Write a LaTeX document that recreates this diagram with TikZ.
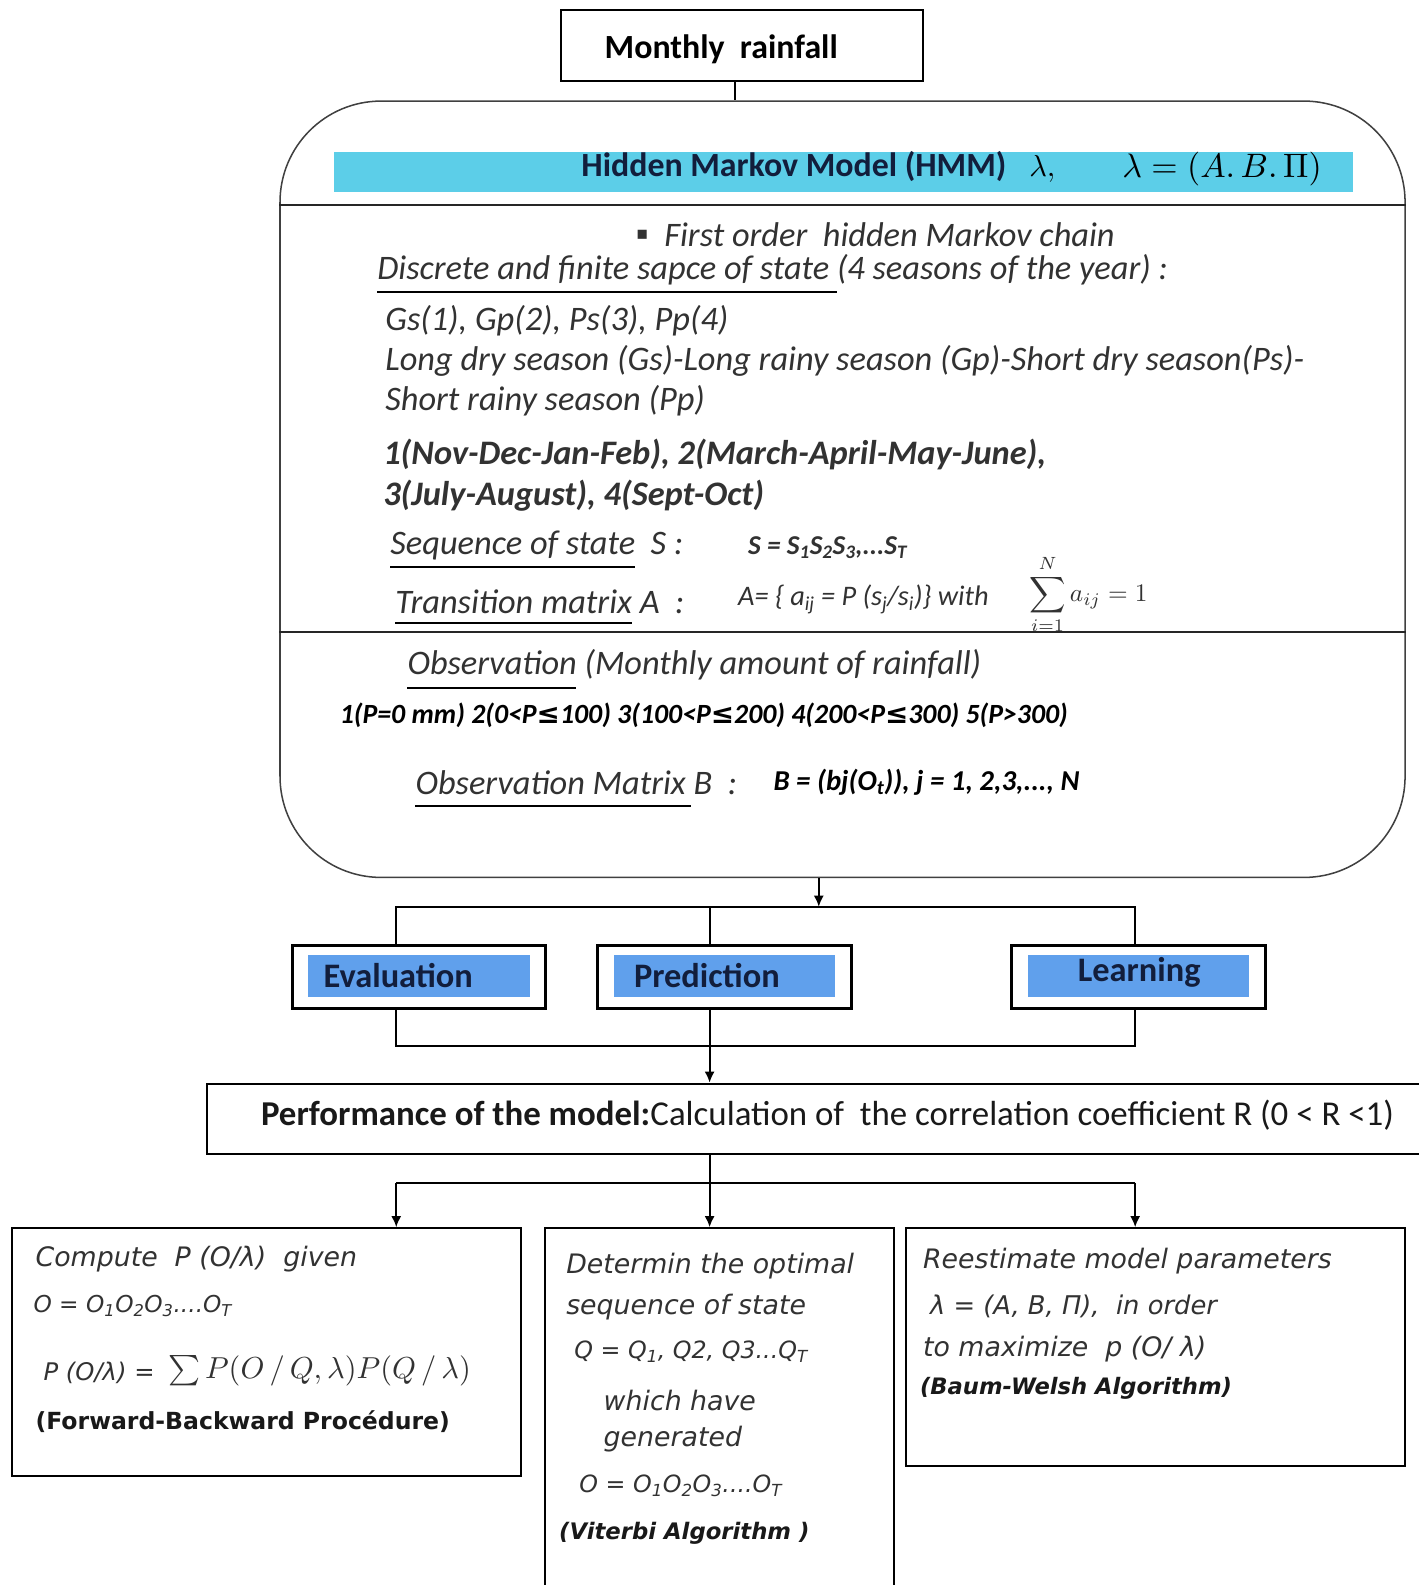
\documentclass[tikz,border=0pt]{standalone}
\usepackage[no-math]{fontspec}
\setmainfont{Carlito}
\newfontfamily\dvs{DejaVu Sans}
\usetikzlibrary{arrows.meta}
\definecolor{cyanbar}{RGB}{92,206,232}
\definecolor{bluefill}{RGB}{96,160,236}
\definecolor{navy}{RGB}{18,30,60}
\definecolor{bodytxt}{RGB}{50,50,50}
\newcommand\sbs[1]{\textsubscript{#1}}
\newcommand\fs[1]{\fontsize{#1}{#1}\selectfont}
\newcommand\mth[2]{\scalebox{#1}{\normalsize$#2$}}
\begin{document}
\begin{tikzpicture}[x=1pt,y=-1pt,
  box/.style={draw, line width=2pt, fill=white, inner sep=0pt},
  bbox/.style={draw, line width=3pt, fill=white, inner sep=0pt, minimum width=251pt, minimum height=63pt},
  bfill/.style={fill=bluefill, inner sep=0pt, minimum width=219pt, minimum height=41pt},
  conn/.style={line width=1.8pt},
  arr/.style={line width=1.8pt, -{Latex[length=11pt,width=10pt]}},
  txt/.style={inner sep=0pt, anchor=west, text=bodytxt},
  it/.style={txt, font=\fs{34}\itshape},
  bi/.style={txt, font=\fs{34}\bfseries\itshape},
  dv/.style={txt, font=\dvs\fs{26.5}\itshape},
  uline/.style={line width=2pt, black},
  ttl/.style={inner sep=0pt, anchor=west, text=navy, font=\fs{34}\bfseries},
]
\useasboundingbox (0,0) rectangle (1403,1568);
\fill[white] (0,0) rectangle (1403,1568);

% coordinates for connector columns / rows
\coordinate (xe) at (392,0);
\coordinate (xp) at (702,0);
\coordinate (xl) at (1123,0);
\coordinate (xs) at (810,0);
\coordinate (ya) at (0,897);
\coordinate (yb) at (0,1035);
\coordinate (yc) at (0,1170);

% Monthly rainfall
\node[box, minimum width=358pt, minimum height=70pt] (mr) at (734,45) {};
\node[inner sep=0pt, anchor=west, font=\fs{33.5}\bfseries] (mrt) at (598,49) {Monthly\ \ rainfall};

% HMM big box
\node[draw, line width=1.5pt, black!75, rounded corners=100pt, minimum width=1113pt, minimum height=768pt, inner sep=0pt] (hmm) at (833.5,484) {};
\draw[conn] ([xshift=-7pt]mr.south) -- ([xshift=-7pt]mr.south |- hmm.north);

\node[fill=cyanbar, minimum width=1008pt, minimum height=40pt, inner sep=0pt] (bar) at (834,170) {};
\node[inner sep=0pt, anchor=west, text=navy, font=\fs{33.5}\bfseries] (hmmt) at (575,165) {Hidden Markov Model (HMM)};
\node[inner sep=0pt, anchor=west] (lam1) at (1018,167) {\mth{3}{\lambda,}};
\node[inner sep=0pt, anchor=west] (lam2) at (1110,167) {\mth{3.35}{\lambda = (A.\,B.\,\Pi)}};

\draw[line width=2pt, black!85] (hmm.west |- 0,203) -- (hmm.east |- 0,203);
\draw[line width=2pt, black!85] (hmm.west |- 0,625) -- (hmm.east |- 0,625);

% HMM contents
\node[txt, font=\dvs\fs{18}] (bul) at (629,232) {▪};
\node[it] (l1) at (657,232) {First order\ \ hidden Markov chain};
\node[it] (l2) at (373,267) {Discrete and finite sapce of state (4 seasons of the year) :};
\draw[uline] (373,289) -- (828,289);
\node[it] (l3) at (381,317) {Gs(1), Gp(2), Ps(3), Pp(4)};
\node[it] (l4) at (381,357) {Long dry season (Gs)-Long rainy season (Gp)-Short dry season(Ps)-};
\node[it] (l5) at (381,396) {Short rainy season (Pp)};
\node[bi] (l6) at (379,450) {1(Nov-Dec-Jan-Feb), 2(March-April-May-June),};
\node[bi] (l7) at (379,490) {3(July-August), 4(Sept-Oct)};
\node[it] (l8) at (386,540) {Sequence of state\ \ S :};
\draw[uline] (386,561) -- (628,561);
\node[txt, font=\fs{27}\bfseries\itshape] (l8b) at (740,542) {S = S\sbs{1}S\sbs{2}S\sbs{3},...S\sbs{T}};
\node[it] (l9) at (391,595) {Transition matrix A\ \ :};
\draw[uline] (391,616) -- (625,616);
\node[txt, font=\fs{28}\itshape] (l9b) at (730,593) {A= \{ a\sbs{ij} = P (s\sbs{j}/s\sbs{i})\} with};
\node[txt] (l9c) at (1018,588) {\mth{2.5}{\displaystyle\sum_{i=1}^{N} a_{ij} = 1}};

\node[it] (l10) at (403,658) {Observation (Monthly amount of rainfall)};
\draw[uline] (403,681) -- (570,681);
\node[txt, font=\fs{27.5}\bfseries\itshape, text=black] (l11) at (336,708) {1(P=0 mm) 2(0<P{\dvs\bfseries\itshape ≤}100) 3(100<P{\dvs\bfseries\itshape ≤}200) 4(200<P{\dvs\bfseries\itshape ≤}300) 5(P>300)};
\node[it] (l12) at (411,774) {Observation Matrix B\ \ :};
\draw[uline] (411,797) -- (684,797);
\node[txt, font=\fs{28.5}\bfseries\itshape, text=black] (l12b) at (765,774) {B = (bj(O\sbs{t})), j = 1, 2,3,..., N};

% Three task boxes
\node[bbox] (ev) at (414.5,966.5) {};
\node[bfill] (evf) at (414.5,965.5) {};
\node[ttl] (evt) at (320,965) {Evaluation};
\node[bbox] (pr) at (717,966.5) {};
\node[bfill] (prf) at (717,965.5) {};
\node[ttl] (prt) at (627,965) {Prediction};
\node[bbox] (le) at (1126,966.5) {};
\node[bfill] (lef) at (1126,965.5) {};
\node[ttl, anchor=center] (let) at (1127,962) {Learning};

\draw[arr] (hmm.south -| xs) -- (xs |- ya);
\draw[conn] (ev.north -| xe) -- (xe |- ya) -- (xl |- ya) -- (le.north -| xl);
\draw[conn] (pr.north -| xp) -- (xp |- ya);

% Performance
\node[box, minimum width=1201pt, minimum height=70pt] (perf) at (805.5,1107) {};
\node[inner sep=0pt, anchor=west, font=\fs{34.5}, text=black!90] (perft) at (258,1103) {\textbf{Performance of the model:}Calculation of\ \ the correlation coefficient R (0 < R <1)};

\draw[conn] (ev.south -| xe) -- (xe |- yb) -- (xl |- yb) -- (le.south -| xl);
\draw[arr] (pr.south -| xp) -- (perf.north -| xp);

% Bottom boxes
\node[box, minimum width=503pt, minimum height=245pt] (bl) at (263.5,1337.5) {};
\node[box, minimum width=345pt, minimum height=360pt] (bm) at (711.5,1395) {};
\node[box, minimum width=494pt, minimum height=235pt] (br) at (1143,1332.5) {};

\draw[conn] (perf.south -| xp) -- (xp |- yc);
\draw[conn] (xe |- yc) -- (xl |- yc);
\draw[arr] (xe |- yc) -- (bl.north -| xe);
\draw[arr] (xp |- yc) -- (bm.north -| xp);
\draw[arr] (xl |- yc) -- (br.north -| xl);

% left box text
\node[dv] (a1) at (35,1246) {Compute\ \ P (O/λ)\ \ given};
\node[dv, font=\dvs\fs{23}\itshape] (a2) at (33,1292) {O = O\sbs{1}O\sbs{2}O\sbs{3}....O\sbs{T}};
\node[dv, font=\dvs\fs{24}\itshape] (a3) at (43,1358) {P (O/λ) = };
\node[txt] (a3b) at (166,1356) {\mth{3.0}{\sum P(O\,/\,Q,\lambda)P(Q\,/\,\lambda)}};
\node[txt, font=\dvs\fs{23.3}\bfseries, text=black!90] (a4) at (35,1406) {(Forward-Backward Procédure)};

% middle box text
\node[dv] (b1) at (560,1253) {Determin the optimal};
\node[dv] (b2) at (560,1293) {sequence of state};
\node[dv, font=\dvs\fs{23.5}\itshape] (b3) at (568,1337) {Q = Q\sbs{1}, Q2, Q3...Q\sbs{T}};
\node[dv] (b4) at (597,1385) {which have};
\node[dv] (b5) at (597,1424) {generated};
\node[dv, font=\dvs\fs{23.5}\itshape] (b6) at (573,1470) {O = O\sbs{1}O\sbs{2}O\sbs{3}....O\sbs{T}};
\node[txt, font=\dvs\fs{22.5}\bfseries\itshape, text=black!90] (b7) at (553,1517) {(Viterbi Algorithm )};

% right box text
\node[dv] (c1) at (913,1248) {Reestimate model parameters};
\node[dv, font=\dvs\fs{25.5}\itshape] (c2) at (920,1292) {λ = (A, B, Π),\ \ in order};
\node[dv] (c3) at (913,1335) {to maximize\ \ p (O/ λ)};
\node[txt, font=\dvs\fs{22.4}\bfseries\itshape, text=black!90] (c4) at (910,1373) {(Baum-Welsh Algorithm)};
\end{tikzpicture}
\end{document}
